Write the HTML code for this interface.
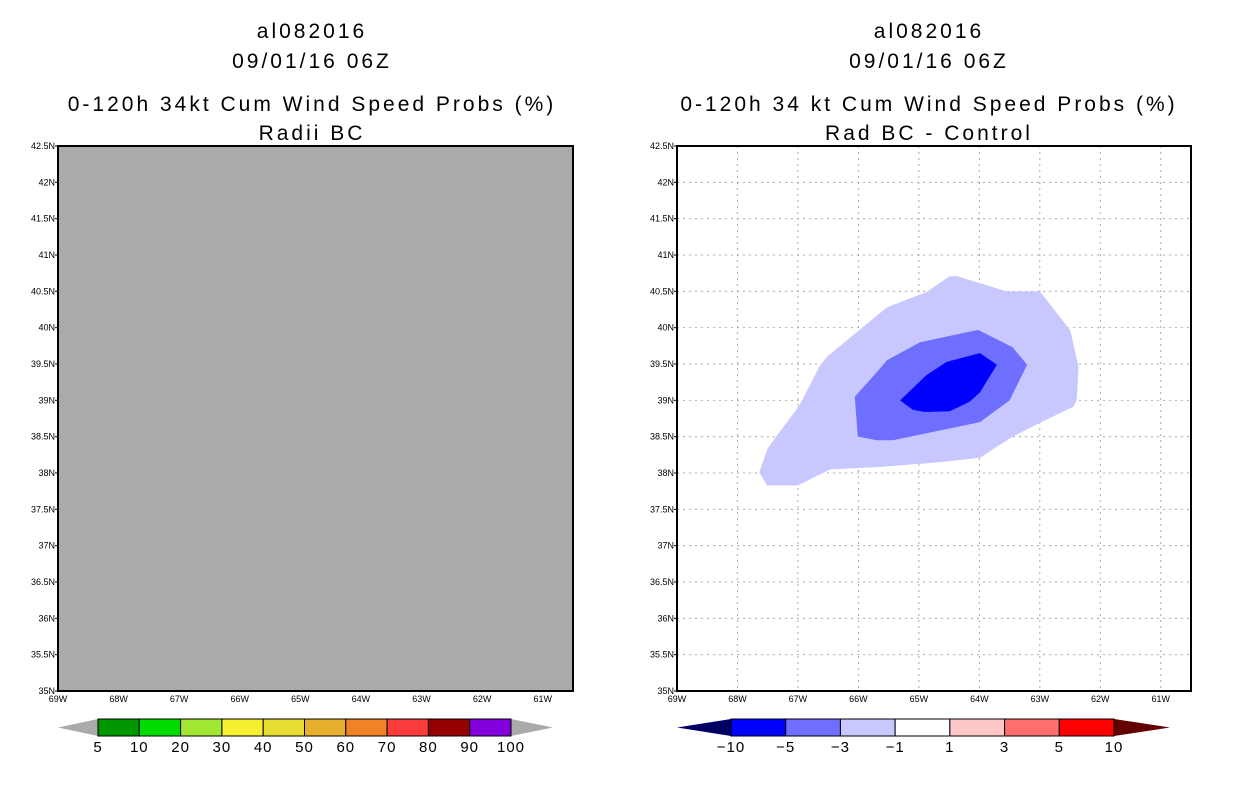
<!DOCTYPE html>
<html><head><meta charset="utf-8"><style>
body{margin:0;background:#fff;width:1236px;height:800px;overflow:hidden}
svg{display:block}
text{font-family:"Liberation Sans",sans-serif;fill:#000}
.tt text{letter-spacing:3px}
</style></head><body>
<svg id="chart" width="1236" height="800">
<g class="tt" font-size="21" text-anchor="middle">
<text x="312" y="38">al082016</text>
<text x="312" y="68">09/01/16 06Z</text>
<text x="312" y="111">0-120h 34kt Cum Wind Speed Probs (%)</text>
<text x="312" y="140">Radii BC</text>
</g>
<g class="tt" font-size="21" text-anchor="middle">
<text x="929" y="38">al082016</text>
<text x="929" y="68">09/01/16 06Z</text>
<text x="929" y="111">0-120h 34 kt Cum Wind Speed Probs (%)</text>
<text x="929" y="140">Rad BC - Control</text>
</g>
<g id="left"></g>
<g id="right"></g>
<g id="cbl"></g>
<g id="cbr"></g>
</svg>
<script>
const latTicks=[35,35.5,36,36.5,37,37.5,38,38.5,39,39.5,40,40.5,41,41.5,42,42.5];
const lonTicks=[-69,-68,-67,-66,-65,-64,-63,-62,-61];
const lightLon=[-67.64,-67.50,-66.97,-66.64,-66.52,-65.53,-64.87,-64.49,-64.37,-63.55,-63.00,-62.50,-62.45,-62.36,-62.39,-62.45,-63.00,-63.45,-63.99,-64.65,-65.69,-66.47,-67.00,-67.51];
const lightLat=[38.01,38.34,38.94,39.47,39.60,40.28,40.49,40.71,40.71,40.50,40.50,39.97,39.79,39.46,39.00,38.91,38.69,38.50,38.21,38.15,38.08,38.05,37.83,37.83];
const midLon=[-66.06,-66.01,-65.69,-65.43,-63.99,-63.50,-63.21,-63.45,-64.02,-64.98,-65.53,-65.64];
const midLat=[39.05,38.50,38.45,38.45,38.70,39.00,39.49,39.73,39.97,39.80,39.55,39.44];
const darkLon=[-65.31,-65.10,-64.90,-64.49,-64.16,-63.99,-63.71,-63.99,-64.54,-64.87];
const darkLat=[39.00,38.87,38.84,38.85,38.98,39.11,39.49,39.65,39.53,39.35];
const leftBarLabels=["5","10","20","30","40","50","60","70","80","90","100"];
const leftBarColors=["#009600","#00dc00","#a0e632","#f5f032","#e6dc32","#e6af2d","#f08228","#fa3c3c","#960000","#8200dc"];
const rightBarLabels=["-10","-5","-3","-1","1","3","5","10"];
const rightBarColors=["#0000ff","#6e6eff","#c8c8ff","#ffffff","#ffc8c8","#ff6e6e","#ff0000"];
const NS='http://www.w3.org/2000/svg';
function mk(p,t,a){const e=document.createElementNS(NS,t);for(const k in a)e.setAttribute(k,a[k]);p.appendChild(e);return e;}
const Y0=691,Y1=146,LAT0=35,LAT1=42.5;
function yS(l){return Y0-(l-LAT0)/(LAT1-LAT0)*(Y0-Y1);}
function panel(g,x0,x1,gray){
  const xS=lon=>x0+(lon+69)/8.5*(x1-x0);
  if(gray){const r=mk(g,'rect',{x:x0,y:Y1,width:x1-x0,height:Y0-Y1,fill:'#aaaaaa'});
    
    }
  else{
    lonTicks.slice(1).forEach(l=>{const ln=mk(g,'line',{x1:xS(l),x2:xS(l),y1:Y1,y2:Y0,stroke:'#aaa','stroke-dasharray':'2,4'});
      
      });
    latTicks.slice(1,-1).forEach(l=>{const ln=mk(g,'line',{x1:x0,x2:x1,y1:yS(l),y2:yS(l),stroke:'#aaa','stroke-dasharray':'2,4'});
      
      });
    [[lightLon,lightLat,'#c8c8ff','contour-minus1'],[midLon,midLat,'#6e6eff','contour-minus3'],[darkLon,darkLat,'#0000ff','contour-minus5']].forEach(([lo,la,c,n])=>{
      const pts=lo.map((v,i)=>xS(v)+','+yS(la[i])).join(' ');
      const p=mk(g,'polygon',{points:pts,fill:c});
      
      
    });
  }
  const b=mk(g,'rect',{x:x0,y:Y1,width:x1-x0,height:Y0-Y1,fill:'none',stroke:'#000','stroke-width':2});
  
  
  latTicks.forEach(l=>{const t=mk(g,'text',{x:x0-3,y:yS(l)+3,'font-size':9,'text-anchor':'end'});t.textContent=l+'N';
    
    
    mk(g,'line',{x1:x0-3,x2:x0,y1:yS(l),y2:yS(l),stroke:'#000'});});
  lonTicks.forEach(l=>{const t=mk(g,'text',{x:xS(l),y:Y0+11,'font-size':9,'text-anchor':'middle'});t.textContent=(-l)+'W';
    
    });
}
panel(document.getElementById('left'),58,573,true);
panel(document.getElementById('right'),677,1191,false);
function cbar(g,tipL,b0,b1,tipR,colors,labels,leftC,rightC){
  const y0=719,y1=736,ym=727.5,w=(b1-b0)/colors.length;
  const l=mk(g,'polygon',{points:`${tipL},${ym} ${b0},${y0} ${b0},${y1}`,fill:leftC});
  
  
  const r=mk(g,'polygon',{points:`${tipR},${ym} ${b1},${y0} ${b1},${y1}`,fill:rightC});
  
  
  colors.forEach((c,i)=>{const s=mk(g,'rect',{x:b0+i*w,y:y0,width:w,height:y1-y0,fill:c,stroke:'#000'});
    
    });
  labels.forEach((t,i)=>{const e=mk(g,'text',{x:b0+i*w,y:752,'font-size':15,'text-anchor':'middle','letter-spacing':'1'});e.textContent=t.replace('-','\u2212');
    
    });
}
cbar(document.getElementById('cbl'),58,98,511,553,leftBarColors,leftBarLabels,'#aaaaaa','#aaaaaa');
cbar(document.getElementById('cbr'),677,731,1114,1170,rightBarColors,rightBarLabels,'#000064','#640000');
</script>
</body></html>
